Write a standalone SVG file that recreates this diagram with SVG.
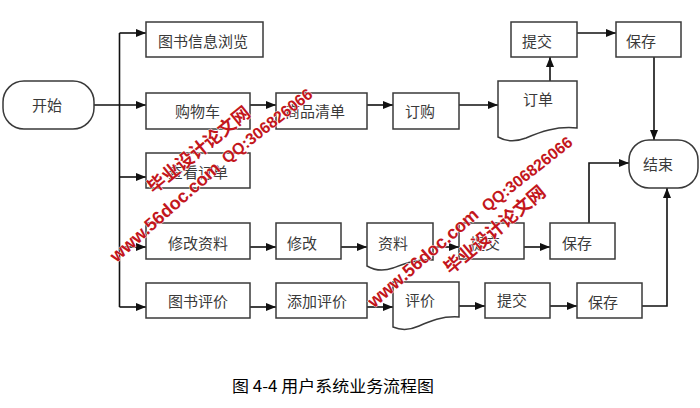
<svg xmlns="http://www.w3.org/2000/svg" width="700" height="408" viewBox="0 0 700 408">
<style>
.box{fill:#fff;stroke:#3a3a3a;stroke-width:1.5}
.lbl{font-family:"Noto Sans CJK SC","Noto Sans",sans-serif;font-size:15px;fill:#3a3a3a;dominant-baseline:central}
.ln{fill:none;stroke:#111;stroke-width:1.6}
.wm{font-family:"Liberation Sans","Noto Sans CJK SC",sans-serif;font-weight:bold;fill:#c3161c;text-anchor:middle;dominant-baseline:central;stroke:#fff;stroke-width:0.8;paint-order:stroke}
.cap{font-family:"Noto Sans CJK SC",sans-serif;font-size:16px;fill:#000}
</style>
<defs>
<marker id="ar" markerWidth="10" markerHeight="8" refX="10" refY="4" orient="auto" markerUnits="userSpaceOnUse">
<path d="M0,0 L10,4 L0,8 Z" fill="#111"/>
</marker>
</defs>
<rect width="700" height="408" fill="#fff"/>

<g id="connectors">
<path class="ln" d="M94,105 H146" marker-end="url(#ar)"/>
<path class="ln" d="M119.5,33 V307"/>
<path class="ln" d="M119.5,33 H146" marker-end="url(#ar)"/>
<path class="ln" d="M119.5,177 H146" marker-end="url(#ar)"/>
<path class="ln" d="M119.5,247 H146" marker-end="url(#ar)"/>
<path class="ln" d="M119.5,307 H146" marker-end="url(#ar)"/>
<path class="ln" d="M250,105 H276" marker-end="url(#ar)"/>
<path class="ln" d="M367,105 H393" marker-end="url(#ar)"/>
<path class="ln" d="M459,105 H498" marker-end="url(#ar)"/>
<path class="ln" d="M550,81 V57" marker-end="url(#ar)"/>
<path class="ln" d="M577,33 H616" marker-end="url(#ar)"/>
<path class="ln" d="M654,57 V140" marker-end="url(#ar)"/>
<path class="ln" d="M250,247 H276" marker-end="url(#ar)"/>
<path class="ln" d="M341,247 H367" marker-end="url(#ar)"/>
<path class="ln" d="M433,247 H459" marker-end="url(#ar)"/>
<path class="ln" d="M524,247 H550" marker-end="url(#ar)"/>
<path class="ln" d="M589,223 V163 H629" marker-end="url(#ar)"/>
<path class="ln" d="M250,307 H276" marker-end="url(#ar)"/>
<path class="ln" d="M367,307 H393" marker-end="url(#ar)"/>
<path class="ln" d="M459,306 H485" marker-end="url(#ar)"/>
<path class="ln" d="M550,306 H577" marker-end="url(#ar)"/>
<path class="ln" d="M642,306 H667 V188" marker-end="url(#ar)"/>
</g>

<g id="start"><rect class="box" x="3" y="81" width="91" height="48" rx="21" ry="21"/><text class="lbl" x="32" y="104">开始</text></g>
<g id="browse"><rect class="box" x="146" y="22" width="117" height="35"/><text class="lbl" x="158" y="40">图书信息浏览</text></g>
<g id="cart"><rect class="box" x="146" y="93" width="104" height="36"/><text class="lbl" x="175" y="110">购物车</text></g>
<g id="goodslist"><rect class="box" x="276" y="93" width="91" height="36"/><text class="lbl" x="285" y="110">商品清单</text></g>
<g id="order"><rect class="box" x="393" y="93" width="66" height="36"/><text class="lbl" x="405" y="110">订购</text></g>
<g id="orderdoc"><path class="box" d="M498,81 H577 V128 C556,126 540,132 526,138 C513,143 505,141 498,137 Z"/><text class="lbl" x="523" y="98">订单</text></g>
<g id="submit1"><rect class="box" x="511" y="22" width="66" height="35"/><text class="lbl" x="522" y="40">提交</text></g>
<g id="save1"><rect class="box" x="616" y="22" width="65" height="35"/><text class="lbl" x="626" y="40">保存</text></g>
<g id="end"><rect class="box" x="629" y="140" width="69" height="48" rx="20" ry="20"/><text class="lbl" x="643" y="163">结束</text></g>
<g id="vieworder"><rect class="box" x="146" y="153" width="104" height="35"/><text class="lbl" x="168" y="171">查看订单</text></g>
<g id="editinfo"><rect class="box" x="146" y="223" width="104" height="36"/><text class="lbl" x="168" y="242">修改资料</text></g>
<g id="edit"><rect class="box" x="276" y="223" width="65" height="36"/><text class="lbl" x="287" y="242">修改</text></g>
<g id="infodoc"><path class="box" d="M367,223 H433 V260 C416,259 404,264 393,268 C382,272 374,270 367,266 Z"/><text class="lbl" x="378" y="242">资料</text></g>
<g id="submit2"><rect class="box" x="459" y="223" width="65" height="36"/><text class="lbl" x="470" y="242">提交</text></g>
<g id="save2"><rect class="box" x="550" y="223" width="65" height="36"/><text class="lbl" x="562" y="242">保存</text></g>
<g id="review"><rect class="box" x="146" y="283" width="104" height="35"/><text class="lbl" x="168" y="300">图书评价</text></g>
<g id="addreview"><rect class="box" x="276" y="283" width="91" height="35"/><text class="lbl" x="287" y="300">添加评价</text></g>
<g id="reviewdoc"><path class="box" d="M393,282 H459 V317 C442,316 430,321 419,326 C408,331 400,330 393,327 Z"/><text class="lbl" x="405" y="299">评价</text></g>
<g id="submit3"><rect class="box" x="485" y="283" width="65" height="35"/><text class="lbl" x="497" y="299">提交</text></g>
<g id="save3"><rect class="box" x="577" y="283" width="65" height="35"/><text class="lbl" x="588" y="301">保存</text></g>

<g id="watermark">
<text class="wm" font-size="18" transform="translate(165,212) rotate(-41.5)">www.56doc.com</text>
<text class="wm" font-size="18" font-weight="900" transform="translate(199,150) rotate(-39)">毕业设计论文网</text>
<text class="wm" font-size="16" font-weight="normal" transform="translate(267,126) rotate(-38)">QQ:306826066</text>
<text class="wm" font-size="18" transform="translate(423,258) rotate(-41)">www.56doc.com</text>
<text class="wm" font-size="18" font-weight="900" transform="translate(495,230) rotate(-40)">毕业设计论文网</text>
<text class="wm" font-size="16" font-weight="normal" transform="translate(527,174) rotate(-38)">QQ:306826066</text>
</g>

<text class="cap" x="232" y="392" textLength="202" lengthAdjust="spacingAndGlyphs">图 4-4 用户系统业务流程图</text>
</svg>
